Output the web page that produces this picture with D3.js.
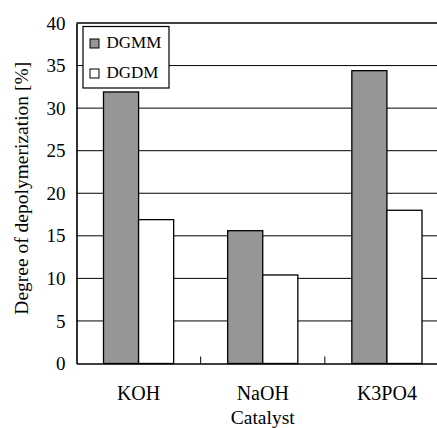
<!DOCTYPE html>
<html>
<head>
<meta charset="utf-8">
<script src="https://cdn.jsdelivr.net/npm/d3@7"></script>
</head>
<body style="margin:0; background:#fff">
<div class="canvas"></div>
<script>
// data
const categories = ["KOH", "NaOH", "K3PO4"];
const seriesNames = ["DGMM", "DGDM"];
const dgmm = [31.9, 15.6, 34.4];
const dgdm = [16.9, 10.4, 18.0];
const yTicks = [0, 5, 10, 15, 20, 25, 30, 35, 40];
const seriesColors = ["#969696", "#ffffff"];

const width = 437, height = 428;
const serif = "'Liberation Serif'";

const svg = d3.select(".canvas")
              .append("svg")
              .attr("width", width)
              .attr("height", height)
              .style("display", "block");

// plot area (runs past the right edge of the picture)
const plotLeft = 76.5, plotRight = 449, plotTop = 23, plotBottom = 363.5;

const y = d3.scaleLinear()
            .domain([0, 40])
            .range([plotBottom, plotTop]);

const x0 = d3.scaleBand()
             .domain(categories)
             .range([plotLeft, plotRight])
             .padding(0);

const x1 = d3.scaleBand()
             .domain(seriesNames)
             .range([0, x0.bandwidth()])
             .paddingInner(0)
             .paddingOuter(0.77);

const rows = categories.map((c, i) => ({cat: c, values: [dgmm[i], dgdm[i]]}));

// gridlines
svg.append("g")
   .selectAll("line")
   .data(yTicks.filter(t => t > 0 && t < 40))
   .enter()
   .append("line")
   .attr("x1", plotLeft)
   .attr("x2", plotRight)
   .attr("y1", d => y(d))
   .attr("y2", d => y(d))
   .attr("stroke", "#000")
   .attr("stroke-width", 1);

// top border
svg.append("line")
   .attr("x1", plotLeft).attr("x2", plotRight)
   .attr("y1", y(40)).attr("y2", y(40))
   .attr("stroke", "#000")
   .attr("stroke-width", 1.6);

// bars
const groups = svg.append("g")
                  .selectAll("g")
                  .data(rows)
                  .enter()
                  .append("g")
                  .attr("transform", d => `translate(${x0(d.cat)},0)`);

groups.selectAll("rect")
      .data(d => d.values.map((v, i) => ({name: seriesNames[i], value: v, i: i})))
      .enter()
      .append("rect")
      .attr("x", d => x1(d.name))
      .attr("y", d => y(d.value))
      .attr("width", x1.bandwidth())
      .attr("height", d => y(0) - y(d.value))
      .attr("fill", d => seriesColors[d.i])
      .attr("stroke", "#000")
      .attr("stroke-width", 1.3);

// y axis
const yAxis = d3.axisLeft(y)
                .tickValues(yTicks)
                .tickSize(0)
                .tickPadding(11);
const gy = svg.append("g")
              .attr("transform", `translate(${plotLeft},0)`)
              .call(yAxis);
gy.select(".domain").attr("stroke", "#000").attr("stroke-width", 1.6);
gy.selectAll("text")
  .style("font-family", serif)
  .style("font-size", "19px")
  .attr("fill", "#000");

// x axis with small upward ticks at category boundaries
const xAxis = d3.axisBottom(x0)
                .tickSize(0)
                .tickPadding(22);
const gx = svg.append("g")
              .attr("transform", `translate(0,${plotBottom})`)
              .call(xAxis);
gx.select(".domain").attr("stroke", "#000").attr("stroke-width", 1.6);
gx.selectAll("text")
  .style("font-family", serif)
  .style("font-size", "20px")
  .attr("fill", "#000");

svg.append("g")
   .selectAll("line")
   .data(categories.slice(1))
   .enter()
   .append("line")
   .attr("x1", d => x0(d))
   .attr("x2", d => x0(d))
   .attr("y1", plotBottom)
   .attr("y2", plotBottom - 7)
   .attr("stroke", "#000")
   .attr("stroke-width", 1);

// axis titles
svg.append("text")
   .attr("x", (plotLeft + plotRight) / 2)
   .attr("y", 424)
   .attr("text-anchor", "middle")
   .style("font-family", serif)
   .style("font-size", "19.5px")
   .text("Catalyst");

svg.append("text")
   .attr("transform", `translate(28,${(plotTop + plotBottom) / 2 - 5}) rotate(-90)`)
   .attr("text-anchor", "middle")
   .style("font-family", serif)
   .style("font-size", "19.5px")
   .text("Degree of depolymerization [%]");

// legend
const legend = svg.append("g");
legend.append("rect")
      .attr("x", 83)
      .attr("y", 26.5)
      .attr("width", 86)
      .attr("height", 61.5)
      .attr("fill", "#fff")
      .attr("stroke", "#000")
      .attr("stroke-width", 1.2);

seriesNames.forEach((name, i) => {
  const yy = 48 + i * 30;
  legend.append("rect")
        .attr("x", 90)
        .attr("y", yy - 9)
        .attr("width", 9)
        .attr("height", 9)
        .attr("fill", seriesColors[i])
        .attr("stroke", "#000")
        .attr("stroke-width", 1);
  legend.append("text")
        .attr("x", 106.5)
        .attr("y", yy)
        .style("font-family", serif)
        .style("font-size", "17px")
        .text(name);
});
</script>
</body>
</html>
